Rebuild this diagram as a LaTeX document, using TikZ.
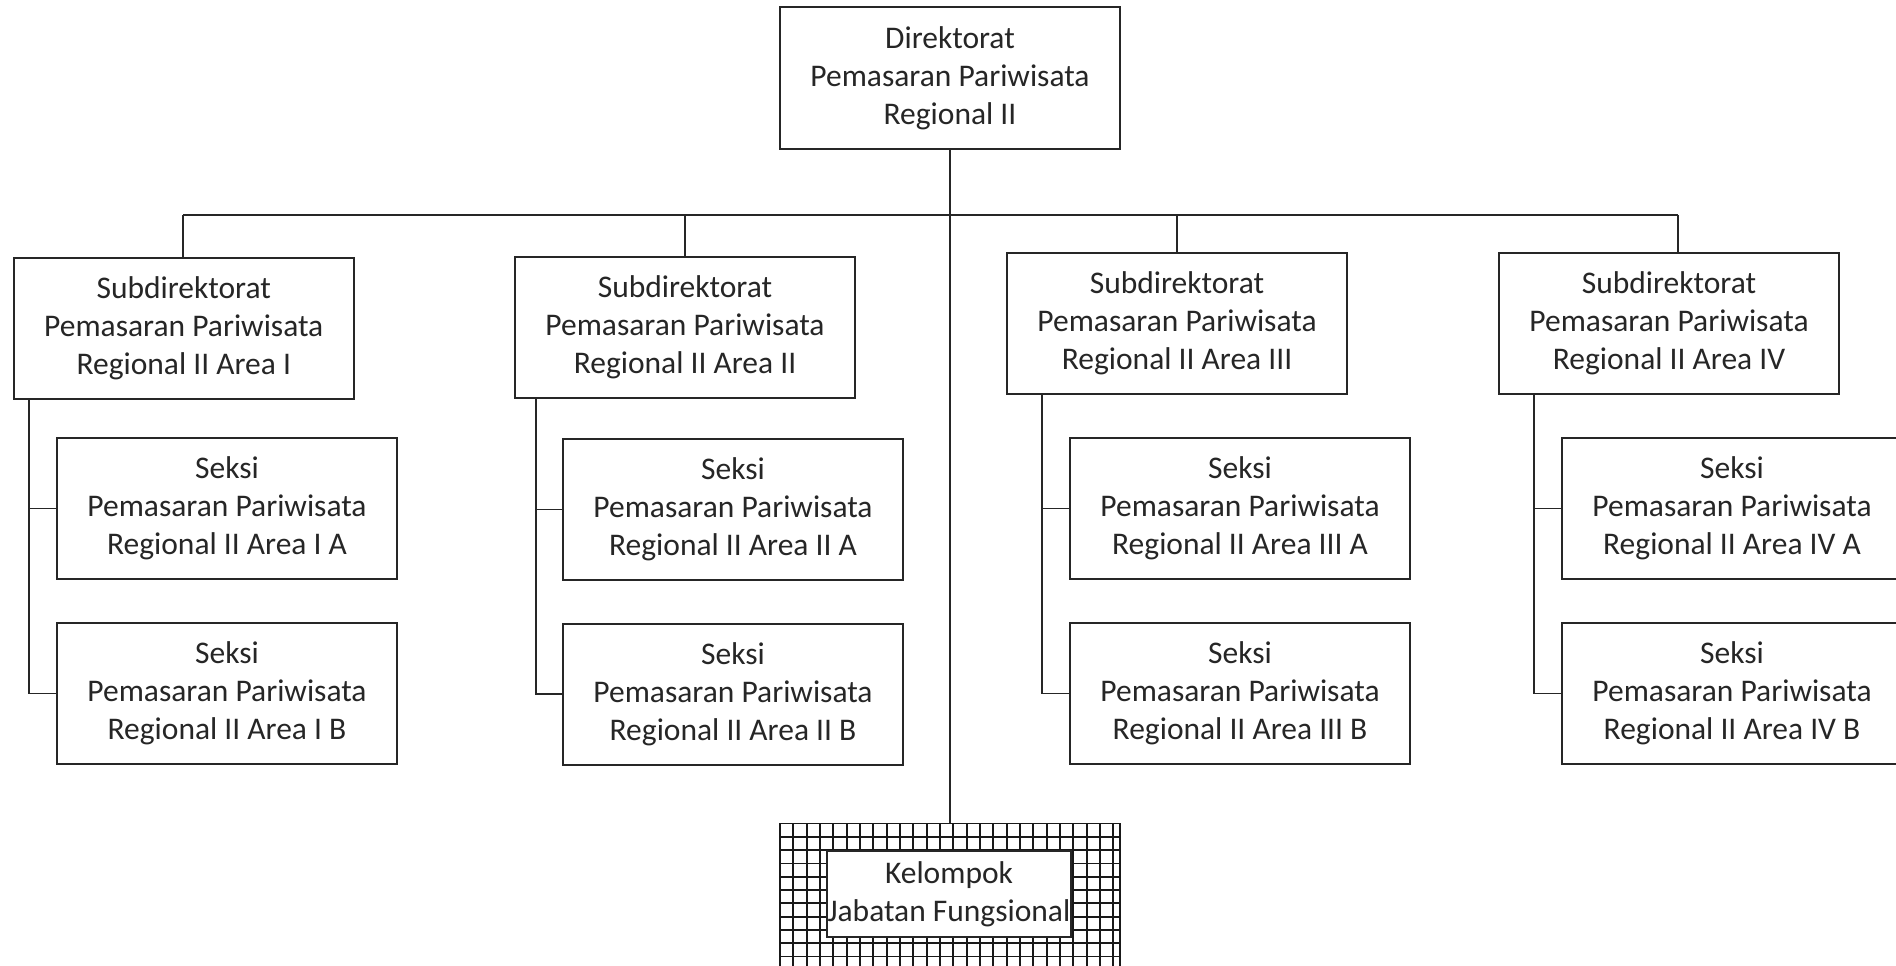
\documentclass[tikz,border=0pt]{standalone}
\usepackage{fontspec}
\setmainfont{Carlito}
\begin{document}
\begin{tikzpicture}[x=1pt,y=-1pt,
  orgbox/.style={draw=black!85, line width=2pt, fill=white, rectangle, inner sep=0pt,
    align=center, font=\fontsize{31.5}{38}\selectfont, text=black!85},
  sekbox/.style={orgbox, minimum width=340pt, minimum height=141pt},
  subbox/.style={orgbox, minimum width=340pt, minimum height=141pt},
  link/.style={draw=black!85, line width=1.7pt},
  gridline/.style={draw=black!90, line width=1.8pt}]
\useasboundingbox (0,0) rectangle (1896,966);
\clip (0,0) rectangle (1896,966);
\fill[white] (0,0) rectangle (1896,966);

% top
\node[orgbox, minimum width=340pt, minimum height=142pt] (top) at (950,78)
  {Direktorat\\Pemasaran Pariwisata\\Regional II};

% subdirektorat
\node[subbox] (sub1) at (183.75,328)
  {Subdirektorat\\Pemasaran Pariwisata\\Regional II Area I};
\node[subbox] (sub2) at (685,327)
  {Subdirektorat\\Pemasaran Pariwisata\\Regional II Area II};
\node[subbox] (sub3) at (1177,323.5)
  {Subdirektorat\\Pemasaran Pariwisata\\Regional II Area III};
\node[subbox] (sub4) at (1669,323.5)
  {Subdirektorat\\Pemasaran Pariwisata\\Regional II Area IV};

% seksi
\node[sekbox] (s1a) at (227,508.5)
  {Seksi\\Pemasaran Pariwisata\\Regional II Area I A};
\node[sekbox] (s1b) at (227,693.5)
  {Seksi\\Pemasaran Pariwisata\\Regional II Area I B};
\node[sekbox] (s2a) at (733,509.5)
  {Seksi\\Pemasaran Pariwisata\\Regional II Area II A};
\node[sekbox] (s2b) at (733,694)
  {Seksi\\Pemasaran Pariwisata\\Regional II Area II B};
\node[sekbox] (s3a) at (1240,508.5)
  {Seksi\\Pemasaran Pariwisata\\Regional II Area III A};
\node[sekbox] (s3b) at (1240,693.5)
  {Seksi\\Pemasaran Pariwisata\\Regional II Area III B};
\node[sekbox] (s4a) at (1732,508.5)
  {Seksi\\Pemasaran Pariwisata\\Regional II Area IV A};
\node[sekbox] (s4b) at (1732,693.5)
  {Seksi\\Pemasaran Pariwisata\\Regional II Area IV B};

% kelompok jabatan fungsional (grid frame)
\node[draw=black!90, line width=1.8pt, rectangle, inner sep=0pt,
      minimum width=340pt, minimum height=170pt] (kgrid) at (950,908.5) {};
\begin{scope}
  \clip (kgrid.south west) rectangle (kgrid.north east);
  \foreach \i in {0,...,26} {
    \draw[gridline] (780+\i*13.33,823.5) -- (780+\i*13.33,1000);
  }
  \foreach \j in {0,...,13} {
    \draw[gridline] (780,823.5+\j*13.3) -- (1120,823.5+\j*13.3);
  }
\end{scope}
\node[orgbox, minimum width=244pt, minimum height=86pt] (kjf) at (949,894)
  {Kelompok\\Jabatan Fungsional};

% bus and connectors
\coordinate (bus1) at (183,215);
\coordinate (bus2) at (685,215);
\coordinate (bus3) at (1177,215);
\coordinate (bus4) at (1678,215);
\draw[link] (bus1) -- (bus2);
\draw[link, line width=2.5pt] (bus2) -- (bus3);
\draw[link] (bus3) -- (bus4);
\draw[link] (bus1) -- (bus1 |- sub1.north);
\draw[link] (bus2) -- (bus2 |- sub2.north);
\draw[link] (bus3) -- (bus3 |- sub3.north);
\draw[link] (bus4) -- (bus4 |- sub4.north);
\draw[link] (top.south) -- (top.south |- kgrid.north);

% column spines
\coordinate (c1) at (29,0);
\coordinate (c2) at (536,0);
\coordinate (c3) at (1042,0);
\coordinate (c4) at (1534,0);
\draw[link] (c1 |- sub1.south) -- (c1 |- s1b.west) -- (s1b.west);
\draw[link] (c1 |- s1a.west) -- (s1a.west);
\draw[link] (c2 |- sub2.south) -- (c2 |- s2b.west) -- (s2b.west);
\draw[link] (c2 |- s2a.west) -- (s2a.west);
\draw[link] (c3 |- sub3.south) -- (c3 |- s3b.west) -- (s3b.west);
\draw[link] (c3 |- s3a.west) -- (s3a.west);
\draw[link] (c4 |- sub4.south) -- (c4 |- s4b.west) -- (s4b.west);
\draw[link] (c4 |- s4a.west) -- (s4a.west);
\end{tikzpicture}
\end{document}
